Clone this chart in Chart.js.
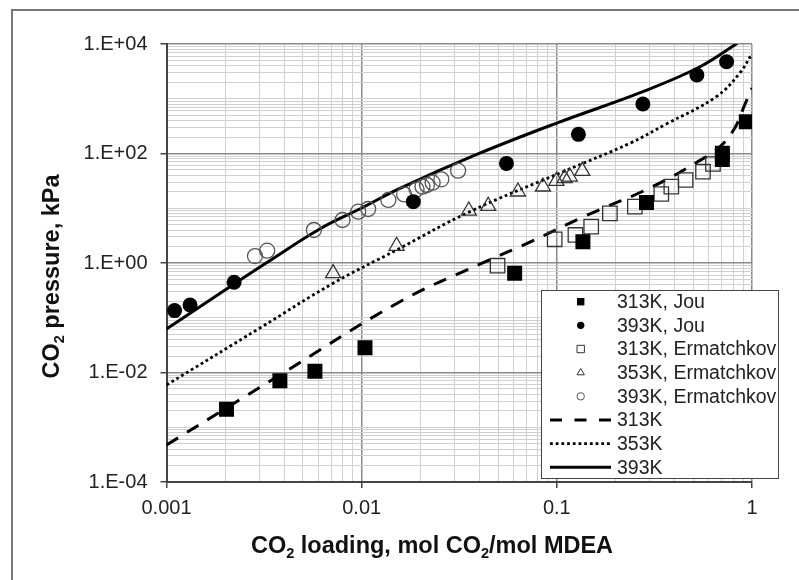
<!DOCTYPE html>
<html>
<head>
<meta charset="utf-8">
<script src="https://cdn.jsdelivr.net/npm/chart.js@4.4.1/dist/chart.umd.min.js"></script>
<style>
  html, body { margin: 0; padding: 0; background: #fff; }
  canvas { display: block; }
</style>
</head>
<body>
<canvas id="c" width="799" height="580"></canvas>
<script>
// CO2 partial pressure over aqueous MDEA versus CO2 loading (mol CO2 / mol MDEA)

// Jou et al. data
const jou313Loading  = [0.00203, 0.00381, 0.00576, 0.0104, 0.0608, 0.136, 0.288, 0.705, 0.705, 0.935];
const jou313Pressure = [0.00213, 0.00708, 0.0105, 0.0284, 0.648, 2.45, 12.8, 101, 78, 381];
const jou393Loading  = [0.00110, 0.00132, 0.00222, 0.0184, 0.0552, 0.129, 0.276, 0.522, 0.741];
const jou393Pressure = [0.135, 0.171, 0.444, 13.2, 66, 224, 800, 2720, 4750];

// Ermatchkov et al. data
const erm313Loading  = [0.0497, 0.0975, 0.1245, 0.150, 0.187, 0.251, 0.343, 0.386, 0.457, 0.561, 0.631];
const erm313Pressure = [0.893, 2.71, 3.25, 4.61, 8.08, 10.7, 18.2, 24.8, 32.8, 46.5, 64.3];
const erm353Loading  = [0.00714, 0.0151, 0.0354, 0.0445, 0.0632, 0.0849, 0.0995, 0.1096, 0.1164, 0.135];
const erm353Pressure = [0.648, 2.05, 9.03, 11.0, 20.1, 24.8, 31.5, 35.2, 37.7, 47.9];
const erm393Loading  = [0.00284, 0.00328, 0.00569, 0.00798, 0.0096, 0.0108, 0.0137, 0.0165, 0.0191, 0.0205, 0.0216, 0.0231, 0.0256, 0.0312];
const erm393Pressure = [1.34, 1.68, 4.01, 6.1, 8.65, 9.69, 14.2, 17.9, 22.2, 24.8, 26.6, 29.3, 33.8, 48.5];

// Model curves
const model313Loading  = [0.001, 0.00203, 0.00381, 0.0157, 0.0403, 0.0727, 0.142, 0.311, 0.539, 0.682, 0.815, 0.917, 1.0];
const model313Pressure = [0.000474, 0.00225, 0.009, 0.196, 0.95, 2.4, 7.4, 25, 74, 131, 289, 769, 1570];
const model353Loading  = [0.001, 0.00301, 0.00714, 0.0151, 0.0358, 0.1076, 0.236, 0.364, 0.656, 0.864, 0.991];
const model353Pressure = [0.00591, 0.065, 0.426, 1.73, 8.65, 46.5, 153, 346, 1090, 2920, 6300];
const model393Loading  = [0.001, 0.00222, 0.00327, 0.0061, 0.010, 0.0157, 0.0394, 0.1, 0.276, 0.539, 0.815, 0.87];
const model393Pressure = [0.0623, 0.413, 1.02, 4.18, 10.1, 23.1, 98, 360, 1350, 3800, 9590, 11500];

// Axis labels
const xTickValues = [0.001, 0.01, 0.1, 1];
const xTickLabels = ['0.001', '0.01', '0.1', '1'];
const yTickValues = [1e-4, 1e-2, 1, 1e2, 1e4];
const yTickLabels = ['1.E-04', '1.E-02', '1.E+00', '1.E+02', '1.E+04'];

const FONT = "'Liberation Sans', Arial, sans-serif";

const pairs = (xs, ys) => xs.map((x, i) => ({ x: x, y: ys[i] }));

// every 1..9 x 10^e position between two decades
function logGrid(minExp, maxExp) {
  const v = [];
  for (let e = minExp; e < maxExp; e++) {
    for (let m = 1; m <= 9; m++) v.push(Number(m + 'e' + e));
  }
  v.push(Number('1e' + maxExp));
  return v;
}
function labelIndex(values, v) {
  return values.findIndex(t => Math.abs(Math.log10(t) - Math.log10(v)) < 1e-6);
}

function drawMarker(ctx, style, x, y, h, fill, stroke, lw) {
  ctx.beginPath();
  if (style === 'rect') {
    ctx.rect(x - h, y - h, 2 * h, 2 * h);
  } else if (style === 'triangle') {
    const r = h * 1.15;
    ctx.moveTo(x, y - r);
    ctx.lineTo(x + r * Math.sin(2 * Math.PI / 3), y + r * 0.5);
    ctx.lineTo(x - r * Math.sin(2 * Math.PI / 3), y + r * 0.5);
    ctx.closePath();
  } else {
    ctx.arc(x, y, h, 0, Math.PI * 2);
  }
  if (fill && fill !== 'rgba(0,0,0,0)') { ctx.fillStyle = fill; ctx.fill(); }
  if (lw > 0) { ctx.lineWidth = lw; ctx.strokeStyle = stroke; ctx.stroke(); }
}

// text runs with subscripts
function drawRich(ctx, runs, cx, baseY, size) {
  const widths = runs.map(r => {
    ctx.font = 'bold ' + (r.sub ? size * 0.62 : size) + 'px ' + FONT;
    return ctx.measureText(r.t).width;
  });
  const total = widths.reduce((a, b) => a + b, 0);
  let x = cx - total / 2;
  ctx.textAlign = 'left';
  ctx.textBaseline = 'alphabetic';
  runs.forEach((r, i) => {
    ctx.font = 'bold ' + (r.sub ? size * 0.62 : size) + 'px ' + FONT;
    ctx.fillText(r.t, x, baseY + (r.sub ? size * 0.2 : 0));
    x += widths[i];
  });
}

const decorations = {
  id: 'decorations',
  beforeDraw(chart) {
    const ctx = chart.ctx;
    ctx.save();
    ctx.strokeStyle = '#777';
    ctx.lineWidth = 2;
    ctx.beginPath();
    ctx.moveTo(12, 580);
    ctx.lineTo(12, 10);
    ctx.lineTo(799, 10);
    ctx.stroke();
    ctx.restore();
  },
  afterDraw(chart) {
    const ctx = chart.ctx;
    ctx.save();
    ctx.fillStyle = '#111';
    // axis titles
    drawRich(ctx, [{ t: 'CO' }, { t: '2', sub: true }, { t: ' loading, mol CO' }, { t: '2', sub: true }, { t: '/mol MDEA' }], 432, 553, 23.5);
    ctx.save();
    ctx.translate(59, 276.5);
    ctx.rotate(-Math.PI / 2);
    drawRich(ctx, [{ t: 'CO' }, { t: '2', sub: true }, { t: ' pressure, kPa' }], 0, 0, 23.5);
    ctx.restore();

    // legend box
    const box = { left: 541.5, top: 290.5, width: 237, height: 188 };
    ctx.fillStyle = '#fff';
    ctx.fillRect(box.left, box.top, box.width, box.height);
    ctx.strokeStyle = '#444';
    ctx.lineWidth = 1;
    ctx.strokeRect(box.left, box.top, box.width, box.height);
    ctx.font = '19.5px ' + FONT;
    ctx.textBaseline = 'middle';
    ctx.textAlign = 'left';
    chart.data.datasets.forEach((ds, i) => {
      const y = 301.7 + i * 23.66;
      if (ds.showLine) {
        ctx.save();
        ctx.setLineDash(ds.legendDash || ds.borderDash || []);
        ctx.lineWidth = ds.borderWidth;
        ctx.strokeStyle = ds.borderColor;
        ctx.beginPath();
        ctx.moveTo(550, y);
        ctx.lineTo(611, y);
        ctx.stroke();
        ctx.restore();
      } else {
        drawMarker(ctx, ds.pointStyle, 580.7, y, 3.7, ds.backgroundColor, ds.borderColor, ds.borderWidth ? 1 : 0);
      }
      ctx.fillStyle = '#222';
      ctx.fillText(ds.label, 617, y + 1);
    });
    ctx.restore();
  }
};

const markerBase = { showLine: false, pointHoverRadius: 0 };
const curveBase = { showLine: true, pointRadius: 0, pointHoverRadius: 0, fill: false,
  borderColor: '#000', backgroundColor: '#000', tension: 0.4 };

const majorX = c => c.tick && labelIndex(xTickValues, c.tick.value) >= 0;
const majorY = c => c.tick && labelIndex(yTickValues, c.tick.value) >= 0;

new Chart(document.getElementById('c'), {
  type: 'scatter',
  data: {
    datasets: [
      Object.assign({}, markerBase, { label: '313K, Jou', data: pairs(jou313Loading, jou313Pressure),
        pointStyle: 'rect', pointRadius: 10.6, backgroundColor: '#000', borderColor: '#000', borderWidth: 0 }),
      Object.assign({}, markerBase, { label: '393K, Jou', data: pairs(jou393Loading, jou393Pressure),
        pointStyle: 'circle', pointRadius: 7.5, backgroundColor: '#000', borderColor: '#000', borderWidth: 0 }),
      Object.assign({}, markerBase, { label: '313K, Ermatchkov', data: pairs(erm313Loading, erm313Pressure),
        pointStyle: 'rect', pointRadius: 10.2, backgroundColor: 'rgba(0,0,0,0)', borderColor: '#333', borderWidth: 1.3 }),
      Object.assign({}, markerBase, { label: '353K, Ermatchkov', data: pairs(erm353Loading, erm353Pressure),
        pointStyle: 'triangle', pointRadius: 8.7, backgroundColor: 'rgba(0,0,0,0)', borderColor: '#333', borderWidth: 1.3 }),
      Object.assign({}, markerBase, { label: '393K, Ermatchkov', data: pairs(erm393Loading, erm393Pressure),
        pointStyle: 'circle', pointRadius: 7.5, backgroundColor: 'rgba(0,0,0,0)', borderColor: '#555', borderWidth: 1.3 }),
      Object.assign({}, curveBase, { label: '313K', data: pairs(model313Loading, model313Pressure),
        borderWidth: 3, borderDash: [13.5, 10.5], legendDash: [12, 12.5] }),
      Object.assign({}, curveBase, { label: '353K', data: pairs(model353Loading, model353Pressure),
        borderWidth: 2.8, borderDash: [2.8, 2.9] }),
      Object.assign({}, curveBase, { label: '393K', data: pairs(model393Loading, model393Pressure),
        borderWidth: 3 })
    ]
  },
  options: {
    responsive: false,
    animation: false,
    devicePixelRatio: 1,
    events: [],
    layout: { padding: { top: 44, right: 47, left: 0, bottom: 0 } },
    plugins: { legend: { display: false }, tooltip: { enabled: false } },
    scales: {
      x: {
        type: 'logarithmic',
        min: 0.001,
        max: 1,
        afterFit(s) { s.height = 98; },
        afterBuildTicks(s) { s.ticks = logGrid(-3, 0).map(v => ({ value: v })); },
        ticks: {
          autoSkip: false, maxRotation: 0, minRotation: 0, padding: 8, color: '#222',
          font: { family: FONT, size: 20 },
          callback(v) { const i = labelIndex(xTickValues, v); return i >= 0 ? xTickLabels[i] : ''; }
        },
        grid: {
          tickLength: 6,
          lineWidth: c => majorX(c) ? 1.5 : 1,
          color: c => majorX(c) ? '#8a8a8a' : '#d0d0d0',
          tickColor: c => majorX(c) ? '#444' : 'rgba(0,0,0,0)'
        },
        border: { color: '#444', width: 2 }
      },
      y: {
        type: 'logarithmic',
        min: 1e-4,
        max: 1e4,
        afterFit(s) { s.width = 166.5; },
        afterBuildTicks(s) { s.ticks = logGrid(-4, 4).map(v => ({ value: v })); },
        ticks: {
          autoSkip: false, padding: 13, color: '#222',
          font: { family: FONT, size: 20 },
          callback(v) { const i = labelIndex(yTickValues, v); return i >= 0 ? yTickLabels[i] : ''; }
        },
        grid: {
          tickLength: 6,
          lineWidth: c => majorY(c) ? 1.5 : 1,
          color: c => majorY(c) ? '#8a8a8a' : '#d0d0d0',
          tickColor: c => majorY(c) ? '#444' : 'rgba(0,0,0,0)'
        },
        border: { color: '#444', width: 2 }
      }
    }
  },
  plugins: [decorations]
});
</script>
</body>
</html>
